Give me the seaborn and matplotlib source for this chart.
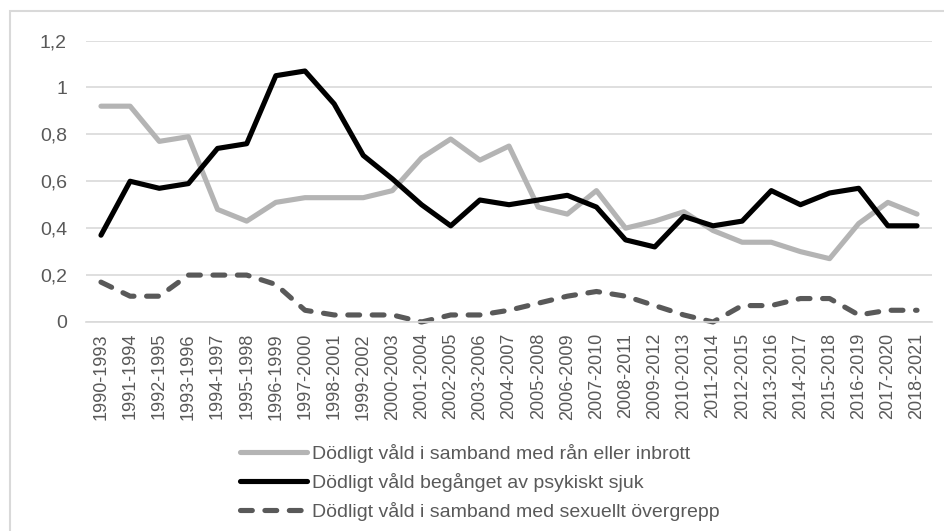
import numpy as np
import pandas as pd
import matplotlib
matplotlib.use("Agg")
import matplotlib.pyplot as plt
import seaborn as sns
from matplotlib.patches import Rectangle

periods = [f"{y}-{y+3}" for y in range(1990, 2019)]

ran_inbrott = [0.92, 0.92, 0.77, 0.79, 0.48, 0.43, 0.51, 0.53, 0.53, 0.53, 0.56, 0.70,
               0.78, 0.69, 0.75, 0.49, 0.46, 0.56, 0.40, 0.43, 0.47, 0.39, 0.34, 0.34,
               0.30, 0.27, 0.42, 0.51, 0.46]
psykiskt_sjuk = [0.37, 0.60, 0.57, 0.59, 0.74, 0.76, 1.05, 1.07, 0.93, 0.71, 0.61, 0.50,
                 0.41, 0.52, 0.50, 0.52, 0.54, 0.49, 0.35, 0.32, 0.45, 0.41, 0.43, 0.56,
                 0.50, 0.55, 0.57, 0.41, 0.41]
sexuellt = [0.17, 0.11, 0.11, 0.20, 0.20, 0.20, 0.16, 0.05, 0.03, 0.03, 0.03, 0.00,
            0.03, 0.03, 0.05, 0.08, 0.11, 0.13, 0.11, 0.07, 0.03, 0.00, 0.07, 0.07,
            0.10, 0.10, 0.03, 0.05, 0.05]

labels = ["Dödligt våld i samband med rån eller inbrott",
          "Dödligt våld begånget av psykiskt sjuk",
          "Dödligt våld i samband med sexuellt övergrepp"]
yticks = [0, 0.2, 0.4, 0.6, 0.8, 1.0, 1.2]
ytick_labels = ["0", "0,2", "0,4", "0,6", "0,8", "1", "1,2"]

df = pd.concat([
    pd.DataFrame({"period": periods, "value": ran_inbrott, "serie": labels[0]}),
    pd.DataFrame({"period": periods, "value": psykiskt_sjuk, "serie": labels[1]}),
    pd.DataFrame({"period": periods, "value": sexuellt, "serie": labels[2]}),
], ignore_index=True)

sns.set_style("white")
plt.rcParams["font.family"] = ["Liberation Sans", "DejaVu Sans"]

fig = plt.figure(figsize=(9.45, 5.31), dpi=100)
ax = fig.add_axes([86.4 / 945, 1 - 322 / 531, (931.6 - 86.4) / 945, (322 - 40.5) / 531])

palette = {labels[0]: "#b4b4b4", labels[1]: "#000000", labels[2]: "#595959"}
dashes = {labels[0]: "", labels[1]: "", labels[2]: (2.3, 2.45)}
sns.lineplot(data=df, x="period", y="value", hue="serie", style="serie",
             palette=palette, dashes=dashes, sort=False, linewidth=3.7, ax=ax,
             legend=True)

for line in ax.get_lines():
    line.set_solid_capstyle("round")
    line.set_dash_capstyle("round")
    line.set_solid_joinstyle("round")
    line.set_dash_joinstyle("round")
    line.set_clip_on(False)

ax.set_xlim(-0.5, len(periods) - 0.5)
ax.set_ylim(0, 1.2)
ax.set_yticks(yticks)
ax.set_yticklabels(ytick_labels)
ax.set_xticks(range(len(periods)))
ax.set_xticklabels(periods, rotation=90)
ax.set_xlabel("")
ax.set_ylabel("")
ax.grid(axis="y", color="#d9d9d9", linewidth=1.2)
ax.grid(axis="x", visible=False)
for s in ["top", "right", "left"]:
    ax.spines[s].set_visible(False)
ax.spines["bottom"].set_color("#d9d9d9")
ax.spines["bottom"].set_linewidth(1.2)
ax.tick_params(axis="y", length=0, pad=14, labelsize=14, labelcolor="#595959")
ax.tick_params(axis="x", length=0, pad=8, labelsize=13, labelcolor="#595959")

handles, lbls = ax.get_legend_handles_labels()
leg = ax.legend(handles, lbls, loc="upper left", bbox_to_anchor=(240 / 945, 1 - 444 / 531),
                bbox_transform=fig.transFigure, frameon=False, fontsize=14,
                handlelength=3.45, handletextpad=0.26, labelspacing=0.52,
                borderpad=0, borderaxespad=0)
for t in leg.get_texts():
    t.set_color("#595959")
for h in leg.get_lines():
    h.set_linewidth(3.7)
    h.set_solid_capstyle("round")
    h.set_dash_capstyle("round")

fig.patches.append(Rectangle((10 / 945, -0.1), 1.2, 1 - 11 / 531 + 0.1,
                             transform=fig.transFigure, fill=False,
                             edgecolor="#d9d9d9", linewidth=1.5))

fig.savefig("out.png", dpi=100)
